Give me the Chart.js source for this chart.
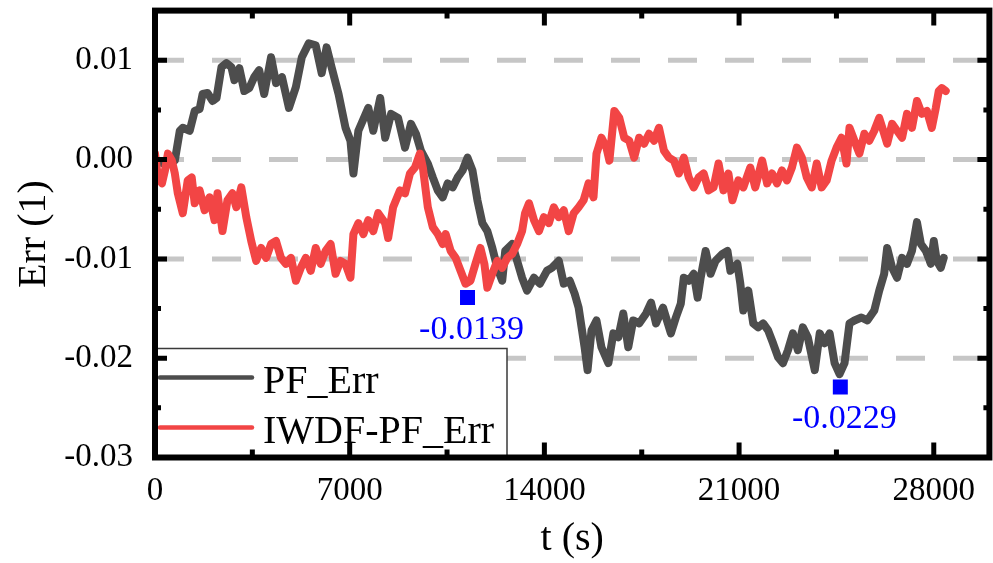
<!DOCTYPE html>
<html>
<head>
<meta charset="utf-8">
<title>Err (1) vs t (s)</title>
<script src="https://cdn.jsdelivr.net/npm/chart.js@4.4.1/dist/chart.umd.min.js"></script>
<style>
  html, body { margin: 0; padding: 0; background: #ffffff; overflow: hidden; }
  #wrap { position: relative; width: 1000px; height: 563px; }
</style>
</head>
<body>
<div id="wrap"><canvas id="errChart"></canvas></div>
<script>
// ---- data -------------------------------------------------------------
// PF_Err: time (s) and error
const pfTime = [0,285,535,713,892,999,1248,1427,1605,1712,
  1891,2069,2212,2390,2568,2747,2854,3032,3210,3389,
  3567,3745,3924,4173,4352,4566,4815,5065,5279,5529,
  5778,5993,6171,6349,6599,6849,7027,7134,7312,7669,
  7847,8097,8275,8489,8739,8989,9203,9381,9560,9809,
  9988,10166,10344,10523,10701,10879,11058,11236,11414,11593,
  11771,11949,12128,12306,12485,12592,12841,13020,13198,13376,
  13626,13840,14090,14268,14518,14696,14910,15088,15231,15338,
  15445,15552,15695,15873,16052,16301,16480,16658,16836,17015,
  17193,17407,17657,17835,18013,18263,18548,18727,18905,19012,
  19190,19369,19511,19619,19797,19975,20154,20403,20582,20689,
  20938,21045,21152,21331,21509,21687,21866,22044,22222,22401,
  22579,22757,22936,23114,23293,23471,23721,23899,24077,24256,
  24434,24612,24791,24969,25147,25397,25611,25861,26039,26217,
  26324,26503,26681,26860,27038,27216,27395,27537,27716,27894,
  28001,28108,28251,28358];
const pfErr = [0.0000,-0.0004,0.0002,-0.0001,0.0029,0.0032,0.0029,0.0049,0.0051,0.0066,
  0.0067,0.0059,0.0062,0.0093,0.0097,0.0093,0.0080,0.0092,0.0069,0.0072,
  0.0083,0.0090,0.0066,0.0103,0.0077,0.0083,0.0052,0.0073,0.0103,0.0117,
  0.0115,0.0087,0.0113,0.0093,0.0066,0.0032,0.0019,-0.0014,0.0029,0.0052,
  0.0029,0.0062,0.0022,0.0046,0.0042,0.0012,0.0036,0.0026,0.0009,-0.0004,
  -0.0018,-0.0031,-0.0038,-0.0024,-0.0028,-0.0018,-0.0011,0.0002,-0.0011,-0.0041,
  -0.0064,-0.0072,-0.0089,-0.0109,-0.0122,-0.0092,-0.0085,-0.0102,-0.0119,-0.0132,
  -0.0119,-0.0125,-0.0112,-0.0109,-0.0102,-0.0125,-0.0122,-0.0135,-0.0149,-0.0169,
  -0.0189,-0.0212,-0.0172,-0.0162,-0.0189,-0.0205,-0.0175,-0.0179,-0.0155,-0.0189,
  -0.0162,-0.0165,-0.0155,-0.0144,-0.0165,-0.0149,-0.0175,-0.0159,-0.0145,-0.0119,
  -0.0122,-0.0115,-0.0139,-0.0119,-0.0092,-0.0115,-0.0102,-0.0095,-0.0092,-0.0112,
  -0.0105,-0.0125,-0.0152,-0.0132,-0.0165,-0.0169,-0.0165,-0.0172,-0.0185,-0.0199,
  -0.0205,-0.0192,-0.0175,-0.0192,-0.0169,-0.0179,-0.0212,-0.0175,-0.0185,-0.0175,
  -0.0205,-0.0216,-0.0205,-0.0165,-0.0162,-0.0159,-0.0162,-0.0152,-0.0132,-0.0115,
  -0.0089,-0.0109,-0.0119,-0.0099,-0.0105,-0.0092,-0.0063,-0.0085,-0.0092,-0.0105,
  -0.0082,-0.0102,-0.0109,-0.0099];

// IWDF-PF_Err: time (s) and error
const iwdfTime = [0,107,250,357,464,606,713,820,999,1177,
  1320,1427,1605,1784,1962,2140,2247,2426,2604,2782,
  2925,3103,3282,3460,3638,3817,3995,4173,4352,4530,
  4708,4887,5065,5243,5422,5600,5779,5957,6135,6314,
  6492,6670,6849,7027,7134,7312,7491,7669,7847,8026,
  8275,8382,8561,8810,8989,9167,9346,9524,9631,9809,
  9988,10166,10344,10451,10630,10808,10986,11165,11343,11521,
  11700,11842,11949,12128,12306,12485,12663,12841,13020,13198,
  13305,13448,13626,13804,13983,14161,14339,14518,14696,14874,
  15053,15231,15409,15588,15766,15873,16052,16230,16337,16515,
  16694,16872,17050,17229,17407,17585,17764,17942,18120,18299,
  18477,18656,18834,19012,19191,19369,19547,19726,19904,20082,
  20261,20439,20617,20760,20974,21152,21402,21580,21830,22008,
  22187,22365,22543,22722,22900,23078,23257,23435,23614,23792,
  23970,24149,24327,24505,24684,24862,24969,25147,25326,25504,
  25682,25861,26039,26217,26324,26503,26681,26860,27038,27216,
  27395,27573,27752,27930,28073,28180,28287,28430];
const iwdfErr = [0.0006,-0.0018,-0.0024,-0.0011,0.0006,-0.0001,-0.0014,-0.0034,-0.0054,-0.0021,
  -0.0018,-0.0044,-0.0031,-0.0051,-0.0038,-0.0061,-0.0034,-0.0072,-0.0041,-0.0034,
  -0.0048,-0.0028,-0.0058,-0.0082,-0.0102,-0.0089,-0.0099,-0.0085,-0.0082,-0.0099,
  -0.0105,-0.0099,-0.0122,-0.0109,-0.0099,-0.0112,-0.0089,-0.0105,-0.0092,-0.0085,
  -0.0115,-0.0102,-0.0105,-0.0119,-0.0075,-0.0064,-0.0075,-0.0061,-0.0072,-0.0054,
  -0.0064,-0.0079,-0.0048,-0.0031,-0.0034,-0.0014,-0.0008,0.0006,-0.0008,-0.0048,
  -0.0068,-0.0075,-0.0085,-0.0075,-0.0092,-0.0099,-0.0112,-0.0125,-0.0122,-0.0105,
  -0.0089,-0.0105,-0.0129,-0.0115,-0.0102,-0.0109,-0.0099,-0.0095,-0.0085,-0.0072,
  -0.0054,-0.0044,-0.0061,-0.0072,-0.0058,-0.0064,-0.0048,-0.0058,-0.0051,-0.0072,
  -0.0054,-0.0048,-0.0041,-0.0024,-0.0038,0.0006,0.0022,0.0012,-0.0001,0.0049,
  0.0042,0.0022,0.0019,0.0002,0.0022,0.0016,0.0026,0.0019,0.0032,0.0009,
  0.0002,-0.0001,-0.0014,0.0002,-0.0018,-0.0028,-0.0018,-0.0014,-0.0031,-0.0028,
  -0.0004,-0.0031,-0.0014,-0.0041,-0.0021,-0.0028,-0.0008,-0.0028,-0.0001,-0.0024,
  -0.0014,-0.0024,-0.0011,-0.0021,-0.0008,0.0012,0.0002,-0.0018,-0.0028,-0.0004,
  -0.0028,-0.0021,-0.0001,0.0012,0.0022,-0.0004,0.0032,0.0019,0.0006,0.0026,
  0.0019,0.0029,0.0042,0.0026,0.0016,0.0036,0.0029,0.0022,0.0046,0.0032,
  0.0059,0.0046,0.0049,0.0032,0.0052,0.0069,0.0072,0.0069];

// marked minima
const minTime = [11236, 24640];
const minErr = [-0.0139, -0.0229];

// axes
const xRange = [0, 30000];
const yRange = [-0.03, 0.015];
const xTickValues = [0, 7000, 14000, 21000, 28000];
const xMinorValues = [3500, 10500, 17500, 24500];
const yTickValues = [-0.03, -0.02, -0.01, 0, 0.01];
const yMinorValues = [-0.025, -0.015, -0.005, 0.005];

// ---- styling ----------------------------------------------------------
const SERIF = '"Liberation Serif", "Times New Roman", Times, serif';
const GRAY = '#4d4d4d';
const RED = '#f24545';
const BLUE = '#0000ff';

const toPoints = (xs, ys) => xs.map((x, i) => ({ x: x, y: ys[i] }));

// dashed horizontal grid, legend box, axis frame, ticks and value labels
const overlay = {
  id: 'overlay',
  beforeDatasetsDraw(chart) {
    const { ctx, chartArea: ca, scales: { y } } = chart;
    ctx.save();
    ctx.strokeStyle = '#c6c6c6';
    ctx.lineWidth = 5;
    ctx.setLineDash([29, 28]);
    yTickValues.forEach(v => {
      if (v <= yRange[0] || v >= yRange[1]) return;
      const py = y.getPixelForValue(v);
      ctx.beginPath();
      ctx.moveTo(ca.left, py);
      ctx.lineTo(ca.right, py);
      ctx.stroke();
    });
    ctx.restore();
  },
  afterDatasetsDraw(chart) {
    const { ctx, chartArea: ca, scales: { x, y } } = chart;
    ctx.save();

    // legend
    const lg = { left: ca.left - 2, top: ca.bottom - 109, w: 354, h: 109 };
    ctx.fillStyle = '#ffffff';
    ctx.fillRect(lg.left, lg.top, lg.w, lg.h);
    ctx.strokeStyle = '#3a3a3a';
    ctx.lineWidth = 1.5;
    ctx.strokeRect(lg.left, lg.top, lg.w, lg.h);
    const entries = chart.data.datasets.filter(d => d.inLegend);
    entries.forEach((d, i) => {
      const cy = lg.top + 29 + i * 50;
      ctx.strokeStyle = d.borderColor;
      ctx.lineWidth = 4.5;
      ctx.lineCap = 'round';
      ctx.beginPath();
      ctx.moveTo(lg.left + 7, cy);
      ctx.lineTo(lg.left + 99, cy);
      ctx.stroke();
      ctx.fillStyle = '#000000';
      ctx.font = '40px ' + SERIF;
      ctx.textAlign = 'left';
      ctx.textBaseline = 'alphabetic';
      ctx.fillText(d.label, lg.left + 110, cy + 15);
    });

    // frame
    ctx.lineCap = 'butt';
    ctx.strokeStyle = '#000000';
    ctx.lineWidth = 6;
    ctx.strokeRect(ca.left, ca.top, ca.right - ca.left, ca.bottom - ca.top);

    // ticks pointing inward on all four sides
    ctx.lineWidth = 5;
    const vTick = (v, len) => {
      const px = x.getPixelForValue(v);
      ctx.beginPath();
      ctx.moveTo(px, ca.bottom); ctx.lineTo(px, ca.bottom - len);
      ctx.moveTo(px, ca.top); ctx.lineTo(px, ca.top + len);
      ctx.stroke();
    };
    const hTick = (v, len) => {
      const py = y.getPixelForValue(v);
      ctx.beginPath();
      ctx.moveTo(ca.left, py); ctx.lineTo(ca.left + len, py);
      ctx.moveTo(ca.right, py); ctx.lineTo(ca.right - len, py);
      ctx.stroke();
    };
    xTickValues.forEach(v => vTick(v, 15));
    xMinorValues.forEach(v => vTick(v, 8));
    yTickValues.forEach(v => hTick(v, 12));
    yMinorValues.forEach(v => hTick(v, 6));

    // value labels under the marked minima
    const meta = chart.getDatasetMeta(2);
    ctx.fillStyle = BLUE;
    ctx.font = '34px ' + SERIF;
    ctx.textAlign = 'center';
    ctx.textBaseline = 'alphabetic';
    meta.data.forEach((pt, i) => {
      ctx.fillText(minErr[i].toFixed(4), pt.x + 4, pt.y + 41);
    });

    ctx.restore();
  }
};

new Chart(document.getElementById('errChart'), {
  type: 'line',
  data: {
    datasets: [
      {
        label: 'PF_Err', inLegend: true,
        data: toPoints(pfTime, pfErr),
        borderColor: GRAY, borderWidth: 8, pointRadius: 0,
        borderJoinStyle: 'round', borderCapStyle: 'round',
        tension: 0, order: 2
      },
      {
        label: 'IWDF-PF_Err', inLegend: true,
        data: toPoints(iwdfTime, iwdfErr),
        borderColor: RED, borderWidth: 8, pointRadius: 0,
        borderJoinStyle: 'round', borderCapStyle: 'round',
        tension: 0, order: 1
      },
      {
        label: 'minimum',
        data: toPoints(minTime, minErr),
        showLine: false, pointStyle: 'rect', pointRadius: 10.6,
        pointBackgroundColor: BLUE, pointBorderWidth: 0,
        borderColor: BLUE, order: 0
      }
    ]
  },
  options: {
    responsive: true,
    maintainAspectRatio: false,
    animation: false,
    events: [],
    layout: { padding: { top: 10, right: 4, left: 0, bottom: 0 } },
    plugins: { legend: { display: false }, tooltip: { enabled: false } },
    scales: {
      x: {
        type: 'linear', min: xRange[0], max: xRange[1],
        afterBuildTicks: s => { s.ticks = xTickValues.map(v => ({ value: v })); },
        afterFit: s => { s.height = 105.5; s.paddingLeft = 0; s.paddingRight = 0; },
        grid: { display: false, drawTicks: false },
        border: { display: false },
        ticks: {
          color: '#000', padding: 14, maxRotation: 0, autoSkip: false,
          font: { family: SERIF, size: 33 },
          callback: v => String(v)
        },
        title: {
          display: true, text: 't (s)', color: '#000',
          font: { family: SERIF, size: 40 }, padding: { top: 0, bottom: 0 }
        }
      },
      y: {
        type: 'linear', min: yRange[0], max: yRange[1],
        afterBuildTicks: s => { s.ticks = yTickValues.map(v => ({ value: v })); },
        afterFit: s => { s.width = 155; s.paddingTop = 0; s.paddingBottom = 0; },
        grid: { display: false, drawTicks: false },
        border: { display: false },
        ticks: {
          color: '#000', padding: 22, autoSkip: false,
          font: { family: SERIF, size: 33 },
          callback: v => v.toFixed(2)
        },
        title: {
          display: true, text: 'Err (1)', color: '#000',
          font: { family: SERIF, size: 40 }, padding: { top: 10, bottom: 0 }
        }
      }
    }
  },
  plugins: [overlay]
});
</script>
</body>
</html>
